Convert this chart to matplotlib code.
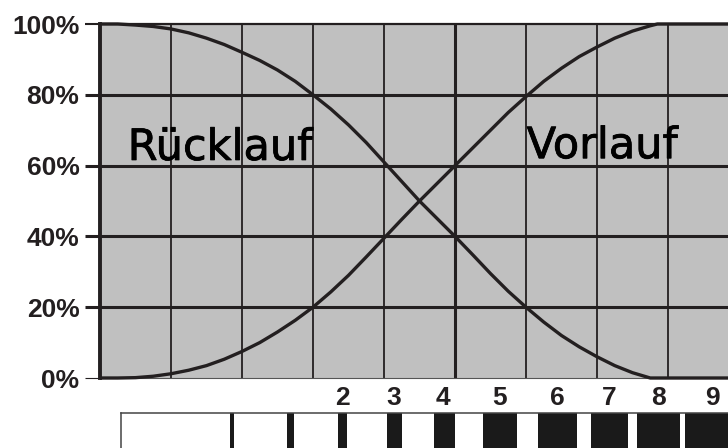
import matplotlib
matplotlib.use("Agg")
import matplotlib.pyplot as plt
import matplotlib.patheffects as pe

# ---- data ----
x_ruecklauf = [0, 0.25, 0.5, 0.75, 1, 1.25, 1.5, 1.75, 2, 2.25, 2.5, 2.75, 3, 3.25, 3.5,
               3.75, 4, 4.25, 4.5, 4.75, 5, 5.25, 5.5, 5.75, 6, 6.25, 6.5, 6.75, 7, 7.25,
               7.5, 7.75, 8.85]
y_ruecklauf = [100, 100, 99.7, 99.3, 98.6, 97.5, 96, 94.2, 92, 89.7, 87, 83.8, 80, 76, 71.5,
               66.5, 61, 55.5, 50, 45, 40, 34.8, 29.5, 24.5, 20, 15.8, 12, 8.8, 6, 3.5,
               1.5, 0, 0]
x_vorlauf = [0, 0.25, 0.5, 0.75, 1, 1.25, 1.5, 1.75, 2, 2.25, 2.5, 2.75, 3, 3.25, 3.5,
             3.75, 4, 4.25, 4.5, 4.75, 5, 5.25, 5.5, 5.75, 6, 6.25, 6.5, 6.75, 7, 7.25,
             7.5, 7.75, 7.85, 8.85]
y_vorlauf = [0, 0, 0.1, 0.5, 1.2, 2.2, 3.5, 5.3, 7.5, 10, 13, 16.3, 20, 24.3, 29,
             34.2, 39.5, 44.8, 50, 55, 60, 65, 70, 75, 79.5, 83.8, 87.5, 90.8, 93.5, 96,
             98, 99.5, 100, 100]
y_ticks = [0, 20, 40, 60, 80, 100]
y_ticklabels = ["0%", "20%", "40%", "60%", "80%", "100%"]
scale_labels = ["2", "3", "4", "5", "6", "7", "8", "9"]
scale_label_pos = [3.42, 4.13, 4.83, 5.63, 6.44, 7.17, 7.86, 8.62]
bar_pos = [1.859, 2.683, 3.415, 4.148, 4.852, 5.634, 6.444, 7.176, 7.866, 8.627]
bar_width = [0.056, 0.099, 0.127, 0.211, 0.296, 0.479, 0.549, 0.521, 0.606, 0.775]
series_names = ["Rücklauf", "Vorlauf"]

W, H = 728, 448
DARK = "#231f20"
fig = plt.figure(figsize=(W / 100, H / 100), dpi=100)
fig.patch.set_facecolor("white")

unit = 71.0
xmax = (W - 100) / unit
ax = fig.add_axes([100 / W, 70 / H, (W - 100) / W, 354 / H])
ax.set_facecolor("#c0c0c0")
ax.set_xlim(0, xmax)
ax.set_ylim(0, 100)

# grid
for xv in range(1, 9):
    ax.axvline(xv, color=DARK, lw=2.2 if xv == 5 else 1.3, zorder=1)
for yv in [20, 40, 60, 80]:
    ax.axhline(yv, color=DARK, lw=2.2, zorder=1)

ax.plot(x_ruecklauf, y_ruecklauf, color=DARK, lw=2.4, zorder=3, clip_on=False,
        solid_capstyle="butt", solid_joinstyle="round")
ax.plot(x_vorlauf, y_vorlauf, color=DARK, lw=2.4, zorder=3, clip_on=False,
        solid_capstyle="butt", solid_joinstyle="round")

ax.spines["right"].set_visible(False)
ax.spines["left"].set_linewidth(2.8)
ax.spines["left"].set_color(DARK)
ax.spines["top"].set_linewidth(1.6)
ax.spines["top"].set_color(DARK)
ax.spines["bottom"].set_linewidth(0.8)
ax.spines["bottom"].set_color("#555555")

ax.set_xticks([])
ax.set_yticks(y_ticks)
ax.set_yticklabels(y_ticklabels, fontfamily="Liberation Sans", fontweight="bold",
                   fontsize=19, color=DARK)
ax.tick_params(axis="y", direction="out", length=10.8, width=2.2, color=DARK, pad=4)
ticks = ax.yaxis.get_major_ticks()
ticks[0].tick1line.set_markeredgewidth(0.8)
ticks[0].tick1line.set_color("#555555")
ticks[-1].tick1line.set_markeredgewidth(1.5)

stroke = [pe.withStroke(linewidth=0.6, foreground="black")]
ax.text(0.39, 61.6, series_names[0], fontsize=31, fontfamily="DejaVu Sans",
        color="black", ha="left", va="baseline", zorder=2, path_effects=stroke)
ax.text(6.01, 62.1, series_names[1], fontsize=31, fontfamily="DejaVu Sans",
        color="black", ha="left", va="baseline", zorder=2, path_effects=stroke)

# scale numbers
trans = ax.get_xaxis_transform()
for lab, p in zip(scale_labels, scale_label_pos):
    ax.text(p, -20 / 354, lab, transform=trans, ha="center", va="center",
            fontfamily="Liberation Sans", fontweight="bold", fontsize=19,
            color=DARK, clip_on=False)

# bar strip
x0 = (121 - 100) / unit
ax2 = fig.add_axes([121 / W, 0, (W - 121) / W, 35 / H])
ax2.set_xlim(x0, xmax)
ax2.set_ylim(0, 1)
ax2.bar(bar_pos, [1] * len(bar_pos), width=bar_width, bottom=0, color="#1a1a1a",
        align="center", linewidth=0)
ax2.set_xticks([])
ax2.set_yticks([])
for s in ["right", "bottom"]:
    ax2.spines[s].set_visible(False)
for s in ["left", "top"]:
    ax2.spines[s].set_linewidth(1.1)
    ax2.spines[s].set_color("#444444")

fig.savefig("out.png", dpi=100)
